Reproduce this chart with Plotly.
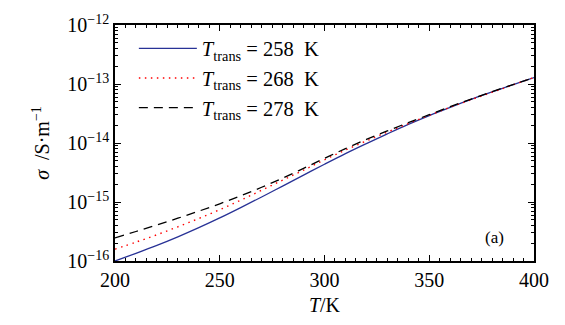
import plotly.graph_objects as go

T = [200, 210, 220, 230, 240, 250, 260, 270, 280, 290, 300,
     310, 320, 330, 340, 350, 360, 370, 380, 390, 400]
log_sigma_258 = [-16.00, -15.87, -15.735, -15.59, -15.435, -15.27, -15.095, -14.915, -14.73, -14.545, -14.36,
                 -14.18, -14.01, -13.845, -13.685, -13.535, -13.395, -13.26, -13.135, -13.01, -12.89]
log_sigma_268 = [-15.80, -15.68, -15.555, -15.42, -15.28, -15.13, -14.97, -14.80, -14.63, -14.46, -14.285,
                 -14.12, -13.965, -13.815, -13.67, -13.53, -13.395, -13.265, -13.14, -13.015, -12.89]
log_sigma_278 = [-15.61, -15.50, -15.39, -15.275, -15.155, -15.03, -14.895, -14.75, -14.595, -14.43, -14.26,
                 -14.095, -13.94, -13.795, -13.655, -13.52, -13.385, -13.255, -13.13, -13.01, -12.89]
labels = ["<i>T</i><sub>trans</sub> = 258  K",
          "<i>T</i><sub>trans</sub> = 268  K",
          "<i>T</i><sub>trans</sub> = 278  K"]
y_tickvals = [1e-16, 1e-15, 1e-14, 1e-13, 1e-12]
y_ticktext = ["10<sup>−16</sup>", "10<sup>−15</sup>", "10<sup>−14</sup>", "10<sup>−13</sup>", "10<sup>−12</sup>"]
y_minor_vals = [m * 10.0 ** e for e in (-16, -15, -14, -13) for m in range(2, 10)]

sig258 = [10 ** v for v in log_sigma_258]
sig268 = [10 ** v for v in log_sigma_268]
sig278 = [10 ** v for v in log_sigma_278]

FONT = "Liberation Serif"
fig = go.Figure()
fig.add_trace(go.Scatter(x=T, y=sig258, mode="lines", name=labels[0], line_shape="spline",
                         line=dict(color="rgb(40,50,150)", width=1.3)))
fig.add_trace(go.Scatter(x=T, y=sig268, mode="lines", name=labels[1], line_shape="spline",
                         line=dict(color="red", width=1.4, dash="1.5px,4.5px")))
fig.add_trace(go.Scatter(x=T, y=sig278, mode="lines", name=labels[2], line_shape="spline",
                         line=dict(color="black", width=1.3, dash="9px,6px")))

axis_common = dict(showline=True, linecolor="black", linewidth=1.5, mirror="allticks",
                   ticks="inside", ticklen=6, tickwidth=1, tickcolor="black",
                   showgrid=False, zeroline=False,
                   tickfont=dict(family=FONT, size=20, color="black"))

fig.update_xaxes(range=[200, 400], dtick=50, tick0=200,
                 title=dict(text="<i>T</i>/K", font=dict(family=FONT, size=20, color="black"), standoff=8),
                 minor=dict(ticks="inside", ticklen=3, dtick=5, tickcolor="black", showgrid=False),
                 **axis_common)
fig.update_yaxes(type="log", range=[-16, -12], tickmode="array", tickvals=y_tickvals, ticktext=y_ticktext,
                 title=dict(text="<i>σ</i>  /S·m<sup>−1</sup>", font=dict(family=FONT, size=20, color="black"), standoff=12),
                 minor=dict(ticks="inside", ticklen=3, tickcolor="black", showgrid=False,
                            tickmode="array", tickvals=y_minor_vals),
                 **axis_common)

fig.update_layout(
    width=565, height=325,
    margin=dict(l=115, r=31, t=15, b=59),
    plot_bgcolor="white", paper_bgcolor="white",
    font=dict(family=FONT, size=20, color="black"),
    showlegend=True,
    legend=dict(x=0.045, y=0.985, xanchor="left", yanchor="top", bgcolor="rgba(0,0,0,0)",
                font=dict(family=FONT, size=20.5, color="black"), itemwidth=58,
                tracegroupgap=4),
    annotations=[dict(x=0.905, y=0.0996, xref="paper", yref="paper", text="(a)", showarrow=False,
                      xanchor="center", yanchor="middle",
                      font=dict(family=FONT, size=17, color="black"))],
)

fig.write_html("out.html")
